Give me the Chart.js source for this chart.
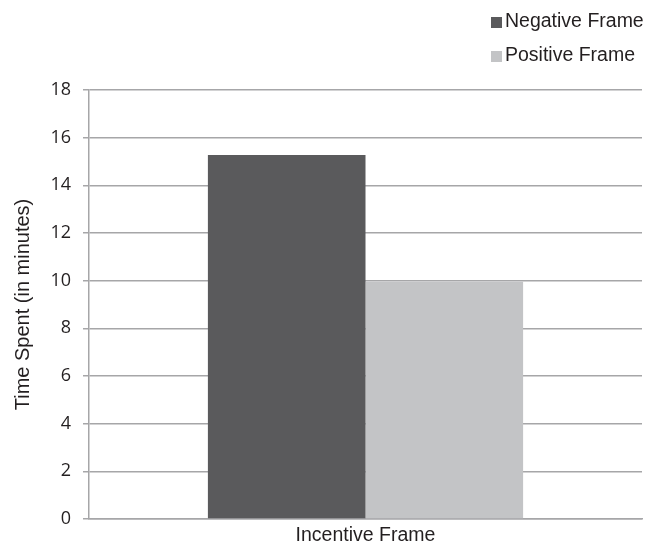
<!DOCTYPE html>
<html>
<head>
<meta charset="utf-8">
<script src="https://cdn.jsdelivr.net/npm/chart.js@4"></script>
<style>
  html, body { margin: 0; padding: 0; background: #fff; }
  #wrap { width: 659px; height: 546px; }
</style>
</head>
<body>
<div id="wrap"><canvas id="c" width="659" height="546"></canvas></div>
<script>
// Average time spent per incentive framing condition
const categories = ['Incentive Frame'];
const seriesNames = ['Negative Frame', 'Positive Frame'];
const negativeFrame = [15.27];
const positiveFrame = [9.95];
const yTicks = [0, 2, 4, 6, 8, 10, 12, 14, 16, 18];

const colors = ['#5a5a5c', '#c3c4c6'];
const textColor = '#231f20';
const gridColor = '#a6a6a8';
const sansFont = '"Liberation Sans", Arial, sans-serif';

// Stacked legend drawn in the top-right corner
const stackedLegend = {
  id: 'stackedLegend',
  afterDraw(chart) {
    const ctx = chart.ctx;
    ctx.save();
    ctx.font = '19.5px ' + sansFont;
    ctx.textBaseline = 'middle';
    ctx.textAlign = 'left';
    chart.data.datasets.forEach((ds, i) => {
      const y = 22 + i * 34;
      ctx.fillStyle = ds.backgroundColor;
      ctx.fillRect(491, y - 5, 11, 11);
      ctx.fillStyle = textColor;
      ctx.fillText(ds.label, 505, y);
    });
    ctx.restore();
  }
};

new Chart(document.getElementById('c'), {
  type: 'bar',
  data: {
    labels: categories,
    datasets: [
      { label: seriesNames[0], data: negativeFrame, backgroundColor: colors[0] },
      { label: seriesNames[1], data: positiveFrame, backgroundColor: colors[1] }
    ]
  },
  options: {
    responsive: false,
    animation: false,
    layout: { padding: { top: 90, right: 17, left: 4, bottom: 0 } },
    datasets: { bar: { categoryPercentage: 0.57, barPercentage: 1.0 } },
    plugins: { legend: { display: false }, tooltip: { enabled: false } },
    scales: {
      x: {
        grid: { display: false },
        border: { display: true, color: gridColor, width: 1.5 },
        ticks: {
          color: textColor,
          font: { family: sansFont, size: 19.5 },
          padding: -3
        },
        afterFit(scale) { scale.height = 27; }
      },
      y: {
        min: 0,
        max: 18,
        afterBuildTicks(scale) { scale.ticks = yTicks.map(v => ({ value: v })); },
        grid: { color: gridColor, lineWidth: 1.5, tickLength: 6 },
        border: { display: true, color: gridColor, width: 1.5 },
        ticks: {
          color: textColor,
          font: { family: '"Open Sans", sans-serif', size: 18 },
          padding: 12
        },
        title: {
          display: true,
          text: 'Time Spent (in minutes)',
          color: textColor,
          font: { family: sansFont, size: 20 },
          padding: { top: 7, bottom: 0 }
        },
        afterFit(scale) { scale.width = 85; }
      }
    }
  },
  plugins: [stackedLegend]
});
</script>
</body>
</html>
